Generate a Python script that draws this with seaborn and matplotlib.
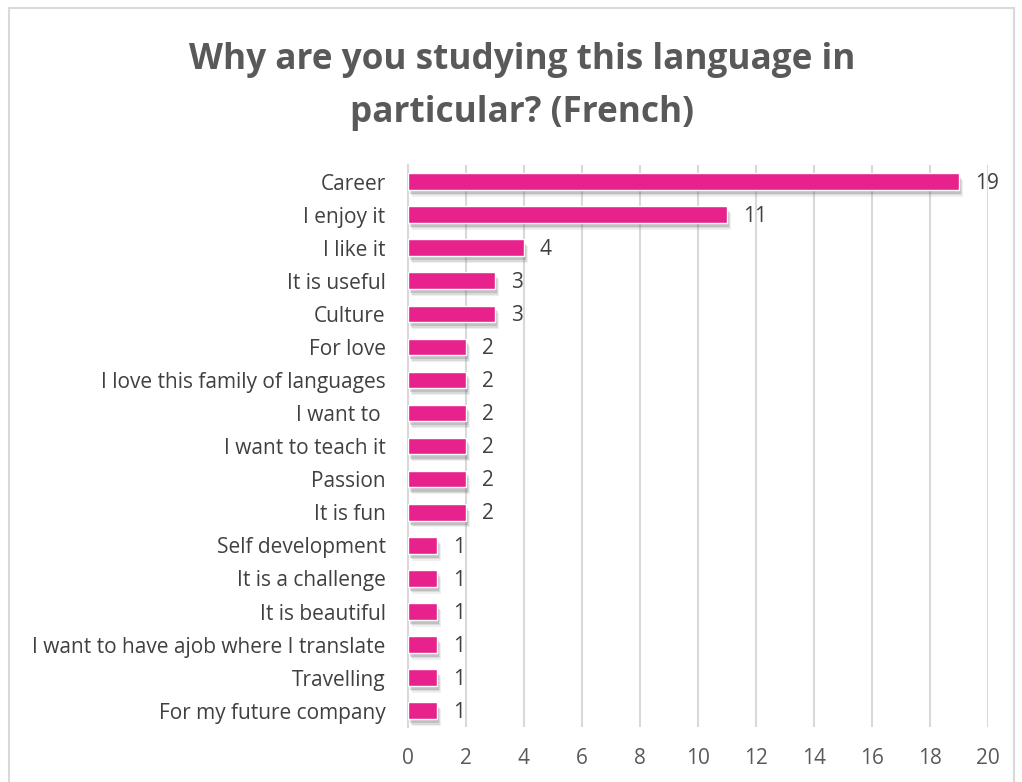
import matplotlib
matplotlib.use("Agg")
import matplotlib.pyplot as plt
import matplotlib.patheffects as pe
from matplotlib.patches import Rectangle
import seaborn as sns
import pandas as pd

categories = ["Career", "I enjoy it", "I like it", "It is useful", "Culture", "For love",
              "I love this family of languages", "I want to ", "I want to teach it", "Passion",
              "It is fun", "Self development", "It is a challenge", "It is beautiful",
              "I want to have ajob where I translate", "Travelling", "For my future company"]
values = [19, 11, 4, 3, 3, 2, 2, 2, 2, 2, 2, 1, 1, 1, 1, 1, 1]
x_ticks = [0, 2, 4, 6, 8, 10, 12, 14, 16, 18, 20]
title = "Why are you studying this language in\nparticular? (French)"

sns.set_theme(style="white")
plt.rcParams['font.family'] = ['Open Sans', 'DejaVu Sans']

df = pd.DataFrame({"reason": categories, "count": values})

fig = plt.figure(figsize=(10.22, 7.82), dpi=100)
ax = fig.add_axes([0.399, 0.070, 0.568, 0.719])

sns.barplot(data=df, y="reason", x="count", orient="h", color="#E8228C",
            width=0.5, ax=ax, zorder=3, saturation=1)
shadow = [pe.SimplePatchShadow(offset=(ox, oy), shadow_rgbFace="#666666", alpha=a)
          for ox, oy, a in [(3, -5, 0.10), (2, -4, 0.15), (1.5, -3, 0.22)]]
for p in ax.patches:
    p.set_path_effects(shadow + [pe.Normal()])
    w = p.get_width()
    ax.text(w + 0.55, p.get_y() + p.get_height() / 2 + 0.05, f"{int(w)}", va="center", ha="left",
            fontsize=15, color="#404040")

ax.set_xlim(0, 20)
ax.set_xticks(x_ticks)
ax.set_xticklabels([str(t) for t in x_ticks], fontsize=15, color="#595959")
ax.tick_params(axis="y", labelsize=15, labelcolor="#404040", length=0, pad=16)
ax.tick_params(axis="x", length=0, pad=15)
ax.set_ylim(len(categories) - 0.5, -0.5)
ax.set_xlabel("")
ax.set_ylabel("")
ax.xaxis.grid(True, color="#D9D9D9", linewidth=1.5, zorder=0)
ax.yaxis.grid(False)
for s in ["top", "right", "bottom"]:
    ax.spines[s].set_visible(False)
ax.spines["left"].set_color("#D9D9D9")
ax.spines["left"].set_linewidth(1.5)

fig.text(0.511, 0.889, title, ha="center", va="center", fontsize=25.3, fontweight="bold",
         color="#595959", linespacing=1.62)

fig.patches.append(Rectangle((0.009, -0.01), 0.983, 1.0, transform=fig.transFigure,
                             fill=False, edgecolor="#D9D9D9", linewidth=1.5))

fig.savefig("out.png", dpi=100)
